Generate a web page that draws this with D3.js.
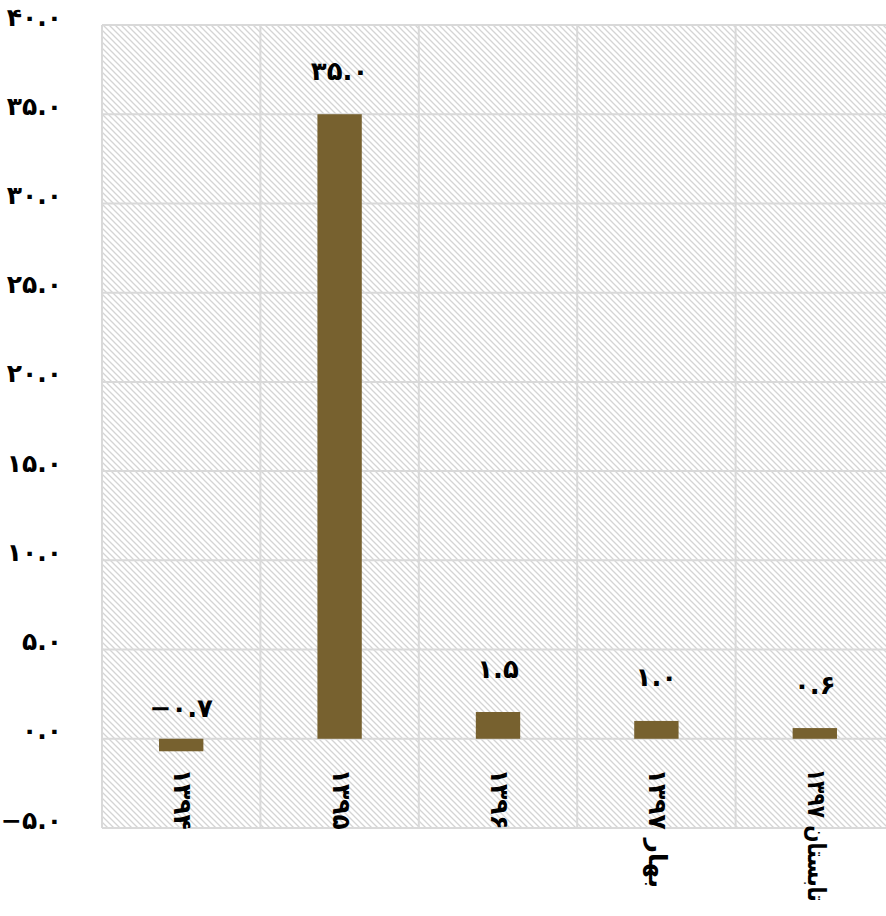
<!DOCTYPE html>
<html>
<head>
<meta charset="utf-8">
<script src="https://cdn.jsdelivr.net/npm/d3@7"></script>
<style>
  html, body { margin: 0; padding: 0; background: #fff; }
  svg { display: block; }
  text { font-family: "DejaVu Sans", sans-serif; font-weight: bold; fill: #000; }
</style>
</head>
<body>
<svg id="chart" width="886" height="916"></svg>
<script>
const categories = ["۱۳۹۴", "۱۳۹۵", "۱۳۹۶", "بهار ۱۳۹۷", "تابستان ۱۳۹۷"];
const values = [-0.7, 35.0, 1.5, 1.0, 0.6];
const valueLabels = ["−۰.۷", "۳۵.۰", "۱.۵", "۱.۰", "۰.۶"];
const yTicks = [-5, 0, 5, 10, 15, 20, 25, 30, 35, 40];
const yTickLabels = ["−۵.۰", "۰.۰", "۵.۰", "۱۰.۰", "۱۵.۰", "۲۰.۰", "۲۵.۰", "۳۰.۰", "۳۵.۰", "۴۰.۰"];

const svg = d3.select("#chart");
const margin = { left: 102, top: 25, right: -8, bottom: 88 };
const W = 886, H = 916;

const x = d3.scaleBand().domain(categories).range([margin.left, W - margin.right]).padding(0);
const y = d3.scaleLinear().domain([-5, 40]).range([H - margin.bottom, margin.top]);

const defs = svg.append("defs");
const pat = defs.append("pattern")
  .attr("id", "hatch").attr("patternUnits", "userSpaceOnUse")
  .attr("width", 6).attr("height", 6);
pat.append("rect").attr("width", 6).attr("height", 6).attr("fill", "#fff");
pat.append("path").attr("d", "M-1,-1 L7,7 M-1,5 L1,7 M5,-1 L7,1")
  .attr("stroke", "#d4d4d4").attr("stroke-width", 1.3);

// plot area hatch
svg.append("rect")
  .attr("x", x.range()[0]).attr("y", y(40))
  .attr("width", x.range()[1] - x.range()[0]).attr("height", y(-5) - y(40))
  .attr("fill", "url(#hatch)");

// horizontal gridlines
svg.append("g").selectAll("line").data(yTicks).join("line")
  .attr("x1", x.range()[0]).attr("x2", x.range()[1])
  .attr("y1", d => y(d)).attr("y2", d => y(d))
  .attr("stroke", "#d9d9d9").attr("stroke-width", 2);

// vertical category boundaries
const bounds = categories.map(c => x(c)).concat([x.range()[1]]);
svg.append("g").selectAll("line").data(bounds).join("line")
  .attr("x1", d => d).attr("x2", d => d)
  .attr("y1", y(40)).attr("y2", y(-5))
  .attr("stroke", "#d9d9d9").attr("stroke-width", 2);

// y tick labels
const yAxis = d3.axisLeft(y).tickValues(yTicks).tickSize(0).tickPadding(0)
  .tickFormat((d, i) => yTickLabels[i]);
const ya = svg.append("g").attr("transform", `translate(62,0)`).call(yAxis);
ya.select(".domain").remove();
ya.selectAll("text")
  .attr("dy", null).attr("y", -7)
  .attr("dominant-baseline", "middle")
  .style("font-size", "25px").style("font-family", "DejaVu Sans").style("font-weight", "bold");

// bars
const bw = x.bandwidth() * 0.28;
svg.append("g").selectAll("rect").data(values).join("rect")
  .attr("x", (d, i) => x(categories[i]) + x.bandwidth() / 2 - bw / 2)
  .attr("width", bw)
  .attr("y", d => y(Math.max(0, d)))
  .attr("height", d => Math.abs(y(d) - y(0)))
  .attr("fill", "#77612f");

// value labels
svg.append("g").selectAll("text").data(values).join("text")
  .attr("x", (d, i) => x(categories[i]) + x.bandwidth() / 2)
  .attr("y", d => y(d) - 42)
  .attr("text-anchor", "middle").attr("dominant-baseline", "middle")
  .style("font-size", "26px")
  .text((d, i) => valueLabels[i]);

// category labels (rotated)
const xl = svg.append("g").selectAll("text").data(categories).join("text")
  .attr("transform", d => `translate(${x(d) + x.bandwidth() / 2},${y(0) + 30}) rotate(90)`)
  .attr("text-anchor", "start").attr("dominant-baseline", "middle")
  .style("font-size", "25px")
  .text(d => d);
const maxLen = 133;
xl.each(function (d) {
  const len = this.getComputedTextLength();
  if (len > maxLen) {
    const k = maxLen / len;
    d3.select(this).attr("transform",
      `translate(${x(d) + x.bandwidth() / 2},${y(0) + 30}) rotate(90) scale(${k},1)`);
  }
});
</script>
</body>
</html>
